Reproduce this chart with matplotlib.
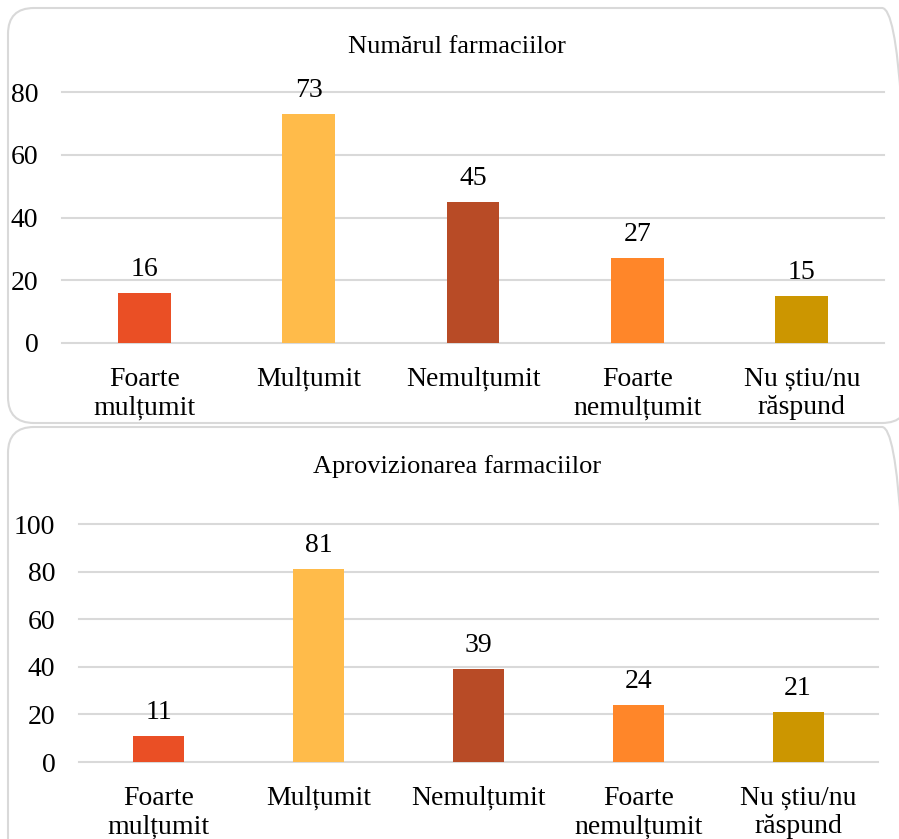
import matplotlib
matplotlib.use("Agg")
import matplotlib.pyplot as plt
from matplotlib.patches import FancyBboxPatch

plt.rcParams['font.family'] = ['Liberation Serif', 'DejaVu Serif']

categories = ["Foarte\nmulțumit", "Mulțumit", "Nemulțumit", "Foarte\nnemulțumit", "Nu știu/nu\nrăspund"]
title1 = "Numărul farmaciilor"
values1 = [16, 73, 45, 27, 15]
ticks1 = [0, 20, 40, 60, 80]
title2 = "Aprovizionarea farmaciilor"
values2 = [11, 81, 39, 24, 21]
ticks2 = [0, 20, 40, 60, 80, 100]
colors = ["#EA4F25", "#FFBB4A", "#B84B26", "#FF8629", "#CC9600"]

W, H = 899, 839
DPI = 100
fig = plt.figure(figsize=(W / DPI, H / DPI), dpi=DPI)

def px_box(x0, y0, x1, y1):
    # pixel coords (top-left origin) -> inches via dpi_scale_trans (uniform aspect)
    return FancyBboxPatch((x0 / DPI, (H - y1) / DPI), (x1 - x0) / DPI, (y1 - y0) / DPI,
                          boxstyle="round,pad=0,rounding_size=0.26",
                          transform=fig.dpi_scale_trans, facecolor="none",
                          edgecolor="#D9D9D9", linewidth=1.5, zorder=-10)

fig.patches.append(px_box(8, 8, 908, 423))
fig.patches.append(px_box(8, 427, 908, 870))

FS = 20

def make_panel(left, right, y_zero, y_top, ymax, values, ticks, title, title_y):
    ax = fig.add_axes([left / W, 1 - y_zero / H, (right - left) / W, (y_zero - y_top) / H])
    ax.patch.set_alpha(0)
    x = range(len(categories))
    bars = ax.bar(x, values, width=0.32, color=colors, zorder=3)
    ax.set_xlim(-0.5, len(categories) - 0.5)
    ax.set_ylim(0, ymax)
    ax.set_yticks(ticks)
    ax.set_yticklabels([str(t) for t in ticks], fontsize=FS)
    ax.set_xticks(list(x))
    ax.set_xticklabels(categories, fontsize=FS, linespacing=1.2)
    for s in ax.spines.values():
        s.set_visible(False)
    ax.tick_params(axis='both', length=0)
    ax.tick_params(axis='y', pad=17)
    ax.tick_params(axis='x', pad=17)
    for t in ticks:
        ax.axhline(t, color="#D9D9D9", linewidth=1.5, zorder=1, clip_on=False)
    for b, v in zip(bars, values):
        ax.annotate(str(v), (b.get_x() + b.get_width() / 2, v), xytext=(0, 8),
                    textcoords="offset points", ha="center", va="bottom", fontsize=FS)
    fig.text(457 / W, 1 - title_y / H, title, ha="center", va="center", fontsize=19)
    return ax

make_panel(62, 884, 343, 92, 80, values1, ticks1, title1, 47)
make_panel(79, 878, 762, 524, 100, values2, ticks2, title2, 467)

fig.savefig("out.png", dpi=DPI)
